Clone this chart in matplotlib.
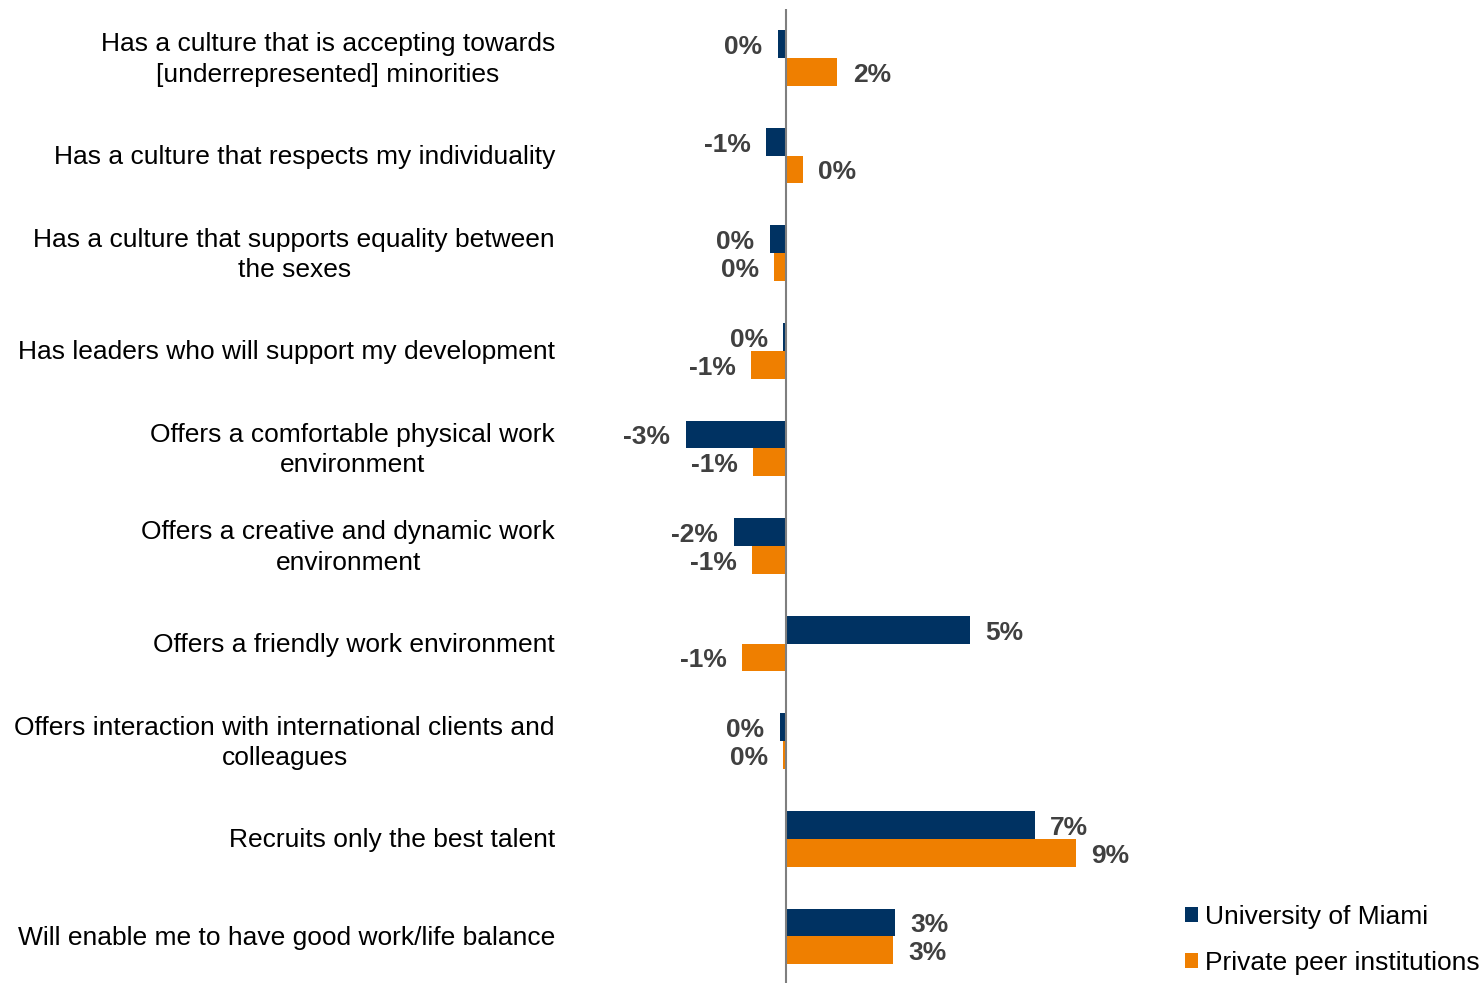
import matplotlib
matplotlib.use("Agg")
import matplotlib.pyplot as plt
import matplotlib.transforms as mtransforms
import numpy as np

plt.rcParams['font.family'] = ['Liberation Sans', 'DejaVu Sans']

categories = [
    "Has a culture that is accepting towards\n[underrepresented] minorities",
    "Has a culture that respects my individuality",
    "Has a culture that supports equality between\nthe sexes",
    "Has leaders who will support my development",
    "Offers a comfortable physical work\nenvironment",
    "Offers a creative and dynamic work\nenvironment",
    "Offers a friendly work environment",
    "Offers interaction with international clients and\ncolleagues",
    "Recruits only the best talent",
    "Will enable me to have good work/life balance",
]

# Percentage-point differences
miami = [-0.24, -0.59, -0.48, -0.09, -2.95, -1.54, 5.40, -0.18, 7.32, 3.20]
peers = [1.51, 0.49, -0.34, -1.02, -0.96, -0.99, -1.28, -0.08, 8.52, 3.15]

series_names = ["University of Miami", "Private peer institutions"]
colors = ["#003262", "#EF7F00"]

W, H = 1484, 983
fig = plt.figure(figsize=(W / 100, H / 100), dpi=100)

# axes placement in pixels
ax_left, ax_right = 600, 1160
ax_top, ax_bottom = 9.2, 985.2
ax = fig.add_axes([ax_left / W, 1 - ax_bottom / H,
                   (ax_right - ax_left) / W, (ax_bottom - ax_top) / H])

scale = 34.0  # px per percentage point
x0 = 786
ax.set_xlim(-(x0 - ax_left) / scale, (ax_right - x0) / scale)
ax.set_ylim(len(categories) - 0.5, -0.5)

y = np.arange(len(categories))
bh = 0.284
b1 = ax.barh(y - bh / 2, miami, height=bh, color=colors[0], label=series_names[0])
b2 = ax.barh(y + bh / 2, peers, height=bh, color=colors[1], label=series_names[1])


def fmt(v):
    p = int(round(v)) + 0
    return f"{p}%"


for bars, vals in ((b1, miami), (b2, peers)):
    for rect, v in zip(bars, vals):
        yc = rect.get_y() + rect.get_height() / 2 + 0.03
        off = 0.45
        if v >= 0:
            ax.text(v + off, yc, fmt(v), ha='left', va='center',
                    fontsize=19, fontweight='bold', color='#404040')
        else:
            ax.text(v - off, yc, fmt(v), ha='right', va='center',
                    fontsize=19, fontweight='bold', color='#404040')

ax.axvline(0, color='#7f7f7f', lw=1.5, zorder=3)

for s in ax.spines.values():
    s.set_visible(False)
ax.set_xticks([])
ax.set_yticks(y)
ax.set_yticklabels(categories, fontsize=19, color='black')
ax.tick_params(axis='y', length=0, pad=(ax_left - 555) * 72 / 100)
for lbl in ax.get_yticklabels():
    lbl.set_multialignment('center')
    lbl.set_linespacing(1.32)
    shift = 4 if "\n" in lbl.get_text() else 1
    lbl.set_transform(lbl.get_transform() +
                      mtransforms.ScaledTranslation(0, shift / 100, fig.dpi_scale_trans))

fig.legend(handles=[b1, b2], labels=series_names, loc='upper left',
           bbox_to_anchor=(1185 / W, 1 - 905 / H), frameon=False,
           fontsize=19, handlelength=0.5, handleheight=0.5,
           handletextpad=0.25, labelspacing=0.82, borderpad=0, borderaxespad=0)

fig.savefig("out.png", dpi=100)
